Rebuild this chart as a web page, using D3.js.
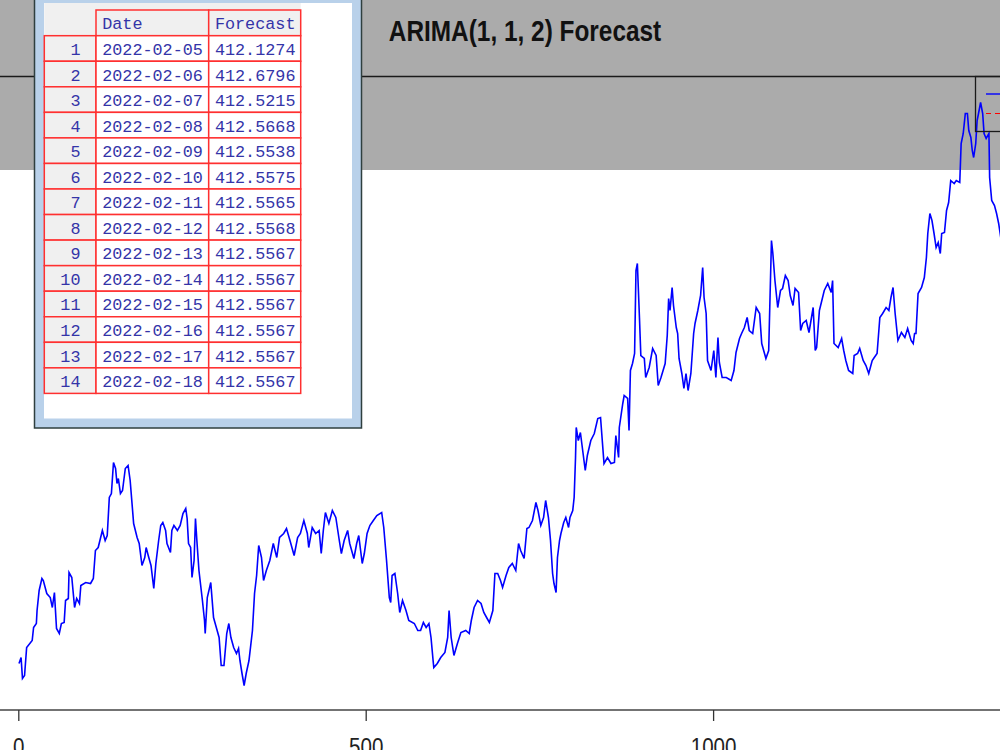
<!DOCTYPE html>
<html>
<head>
<meta charset="utf-8">
<script src="https://cdn.jsdelivr.net/npm/d3@7"></script>
<style>
  html, body { margin: 0; padding: 0; background: #ffffff; overflow: hidden; }
  svg { display: block; }
</style>
</head>
<body>
<svg id="chart" width="1000" height="750"></svg>
<script>
// ---- Data ----
const chartTitle = "ARIMA(1, 1, 2) Forecast";
const xTicks = [0, 500, 1000];

// observed series (index, value)
const obsIndex = [1,4,6,9,12,20,22,26,27,30,34,36,41,46,49,52,55,59,62,66,68,72,73,77,81,84,88,90,97,104,108,111,115,121,125,128,131,134,137,140,142,144,147,150,154,158,161,166,171,174,178,182,184,187,191,195,198,202,205,208,212,214,219,221,224,229,233,237,241,243,245,248,250,253,255,257,260,265,268,269,272,277,281,285,289,292,296,300,303,306,310,314,317,319,322,325,328,332,337,340,343,346,350,353,357,362,367,372,376,382,386,391,397,402,406,411,416,418,423,428,433,436,439,442,447,452,457,462,465,469,474,477,483,487,490,495,498,502,506,511,516,523,526,530,534,536,538,542,546,549,553,558,562,570,575,579,583,587,591,594,597,598,603,608,614,618,620,623,627,632,637,644,649,652,656,661,666,670,674,678,683,686,690,694,697,702,706,711,716,720,723,728,732,735,740,745,748,752,756,759,763,766,769,771,774,776,779,781,785,788,792,794,798,800,802,803,806,809,816,819,824,829,834,838,843,848,853,858,860,864,865,870,872,877,879,881,884,887,889,891,894,896,901,903,908,913,918,921,925,931,934,936,938,941,943,947,949,951,955,958,961,964,968,972,974,978,982,985,987,990,992,997,1001,1004,1007,1009,1013,1019,1026,1030,1033,1038,1041,1045,1049,1052,1057,1062,1067,1070,1074,1076,1080,1082,1084,1086,1089,1093,1097,1100,1104,1108,1111,1115,1118,1123,1126,1129,1134,1138,1144,1147,1149,1153,1160,1165,1170,1172,1174,1180,1185,1188,1191,1195,1201,1203,1208,1211,1216,1220,1224,1229,1232,1236,1240,1244,1249,1253,1256,1259,1262,1266,1271,1276,1280,1285,1288,1290,1292,1295,1300,1304,1307,1309,1312,1315,1318,1321,1324,1327,1329,1333,1336,1339,1342,1347,1350,1355,1357,1360,1363,1366,1368,1371,1373,1375,1378,1380,1382,1385,1388,1390,1393,1397,1398,1401,1405,1408,1411,1414,1416,1421];
const obsValue = [218.5,221.5,211,212.5,226.5,230,236.5,238.5,245,255,261,260,253.5,251.5,246.5,254,236,233.5,238.5,239,250,251,264,261.5,246.5,251,248.5,257.5,259,258.5,261,275,276.5,285,280,282.5,301.5,303.5,319,316,308.5,311,303.5,305,316,317.5,310,288.5,281.5,278.5,267.5,271.5,276.5,272.5,267.5,256,268.5,280,287.5,289,285,278.5,274,285,287.5,285,287.5,293.5,296,291,278.5,276.5,261.5,270,291,280,265,250,240,233.5,251.5,259,241.5,236.5,231.5,217.5,217.5,233.5,238.5,231.5,226.5,223.5,226,220,213.5,207.5,213.5,220,235,253.5,262.5,277.5,271.5,260,265,270,278.5,271.5,281.5,283.5,286,280,272.5,281.5,283.5,290,283.5,276.5,286.5,283.5,285,273.5,285,294,288.5,295,291.5,280,273.5,280,285,278.5,271,278.5,282.5,268.5,273.5,283.5,287.5,290,292.5,294,286.5,270,251.5,249,262.5,263.5,253.5,244,250,245,240,238.5,235,235,239,236.5,238.5,231.5,220,216.5,218.5,221.5,224,231.5,245,231.5,222.5,228.5,234,235,233.5,240,246.5,250,248.5,244,241.5,239,245,263.5,263.5,260,256.5,262.5,266.5,268.5,265,278.5,275,271,286,286.5,290,299,295,287.5,291.5,300,291.5,280,263.5,258.5,254,271.5,280,283.5,289,291.5,286.5,291.5,295,301.5,321.5,336.5,330,334,315,322.5,330,333.5,341,341.5,318.5,321.5,318.5,319,332.5,321.5,336.5,348.5,352.5,351,335,365,368.5,373.5,415,418.5,391.5,372.5,371,361.5,366.5,376,372.5,357.5,361.5,368.5,382.5,401,395,406.5,397.5,386.5,383.5,371,363.5,356,363.5,355,363.5,383.5,388.5,395,402.5,416.5,401.5,393.5,370,365,375,361.5,381.5,369,361.5,361.5,360,365,374,381,383.5,386.5,391.5,385,383.5,396.5,393.5,378.5,373.5,371,375,402.5,430,423.5,410,396.5,405,406,412.5,410,402.5,397.5,406,404,385,388.5,390,384,396.5,375,376.5,395,405,408.5,404,410,378.5,376.5,381,375,370,365,363.5,372.5,373.5,376,370,367.5,363.5,370,371.5,373.5,391.5,393.5,396.5,395,401.5,406.5,393.5,380,384,381.5,386,380,378.5,383.5,383.5,403.5,406.5,411.5,421.5,433.5,443.5,440,433.5,426.5,429,423.5,433.5,434,445,449,460,458.5,460,459,478.5,483.5,493.5,493.5,485,481.5,475,471.5,478.5,490,493.5,499,493.5,483.5,481,483.5,461.5,450,447.5,443.5,438.5,431.5,425,417.5];

// forecast table
const fcRow = [1,2,3,4,5,6,7,8,9,10,11,12,13,14];
const fcDate = ["2022-02-05","2022-02-06","2022-02-07","2022-02-08","2022-02-09","2022-02-10","2022-02-11","2022-02-12","2022-02-13","2022-02-14","2022-02-15","2022-02-16","2022-02-17","2022-02-18"];
const fcValue = [412.1274,412.6796,412.5215,412.5668,412.5538,412.5575,412.5565,412.5568,412.5567,412.5567,412.5567,412.5567,412.5567,412.5567];
const tableHeader = ["", "Date", "Forecast"];

// ---- Drawing ----
const svg = d3.select("#chart");
const W = 1000, H = 750;

const x = d3.scaleLinear().domain([0, 1000]).range([18.3, 713.1]);
const y = d3.scaleLinear().domain([195.5, 512]).range([709.5, 76.5]);

svg.append("rect").attr("x", 0).attr("y", 0).attr("width", W).attr("height", H).attr("fill", "#ffffff");
svg.append("rect").attr("x", 0).attr("y", 0).attr("width", W).attr("height", 170).attr("fill", "#ababab");

// plot frame top line
svg.append("line").attr("x1", 0).attr("x2", W).attr("y1", 76.5).attr("y2", 76.5)
  .attr("stroke", "#1a1a1a").attr("stroke-width", 1.3);

// observed line
const n = Math.min(obsIndex.length, obsValue.length);
const obs = d3.range(n).map(i => ({ i: obsIndex[i], v: obsValue[i] }));
const line = d3.line().x(d => x(d.i)).y(d => y(d.v));
svg.append("path").datum(obs).attr("d", line)
  .attr("fill", "none").attr("stroke", "#0000ff").attr("stroke-width", 1.6)
  .attr("stroke-linejoin", "miter");

// forecast line (continues after last observation, off to the right)
const lastI = obsIndex[n - 1];
const fc = fcValue.map((v, k) => ({ i: lastI + 1 + k, v }));
svg.append("path").datum(fc).attr("d", line)
  .attr("fill", "none").attr("stroke", "#ff0000").attr("stroke-width", 1.2)
  .attr("stroke-dasharray", "5,4");

// legend box (partially visible)
const lg = svg.append("g");
lg.append("rect").attr("x", 975.5).attr("y", 76.5).attr("width", 60).attr("height", 55)
  .attr("fill", "none").attr("stroke", "#1a1a1a").attr("stroke-width", 1.3);
lg.append("line").attr("x1", 986).attr("x2", 1010).attr("y1", 94).attr("y2", 94)
  .attr("stroke", "#0000ff").attr("stroke-width", 1.4);
lg.append("line").attr("x1", 986).attr("x2", 1010).attr("y1", 113.5).attr("y2", 113.5)
  .attr("stroke", "#ff0000").attr("stroke-width", 1.2).attr("stroke-dasharray", "5,4");

// x axis
svg.append("line").attr("x1", 0).attr("x2", W).attr("y1", 710).attr("y2", 710)
  .attr("stroke", "#444444").attr("stroke-width", 1.5);
const axis = d3.axisBottom(x).tickValues(xTicks).tickSize(11).tickFormat(d3.format("d"));
const ax = svg.append("g").attr("transform", "translate(0,710)").call(axis);
ax.select(".domain").remove();
ax.selectAll(".tick line").attr("stroke", "#333333").attr("stroke-width", 1.3);
ax.selectAll(".tick text").remove();
ax.selectAll(".tick").append("text")
  .attr("transform", "translate(0,45.4) scale(1,1.18)")
  .attr("text-anchor", "middle")
  .attr("fill", "#222222")
  .style("font-family", "'Liberation Sans', Arial, sans-serif")
  .style("font-size", "20.6px")
  .text(d => d3.format("d")(d));

// title
svg.append("text")
  .attr("transform", "translate(525,40.8) scale(1,1.18)")
  .attr("text-anchor", "middle")
  .attr("fill", "#111111")
  .style("font-family", "'Liberation Sans', Arial, sans-serif")
  .style("font-weight", "bold")
  .style("font-size", "24.4px")
  .text(chartTitle);

// ---- forecast table window ----
const tw = svg.append("g");
tw.append("rect").attr("x", 34.5).attr("y", -5).attr("width", 327).attr("height", 433)
  .attr("fill", "#b9d1ea").attr("stroke", "#2f3f3f").attr("stroke-width", 1.5);
tw.append("rect").attr("x", 44).attr("y", 3).attr("width", 308).attr("height", 415.5).attr("fill", "#ffffff");

const colX = [44.3, 96, 208.7, 300.7];
const headTop = 10, rowTop = 35.7, rowH = 25.55;
const red = "#ff3030";
const txtColor = "#3434a8";
const mono = "'Liberation Mono', 'Courier New', monospace";

// header band
tw.append("rect").attr("x", colX[0]).attr("y", 3).attr("width", colX[3] - colX[0]).attr("height", rowTop - 3)
  .attr("fill", "#f0f0f0");
[1, 2].forEach(c => {
  tw.append("rect").attr("x", colX[c]).attr("y", headTop).attr("width", colX[c + 1] - colX[c]).attr("height", rowTop - headTop)
    .attr("fill", "#f0f0f0").attr("stroke", red).attr("stroke-width", 1.5);
});
tw.selectAll("text.head").data(tableHeader.slice(1)).enter().append("text")
  .attr("x", (d, k) => colX[k + 1] + 6.2)
  .attr("y", headTop + 19.2)
  .attr("fill", txtColor)
  .style("font-family", mono).style("font-size", "16.8px")
  .text(d => d);

const rows = tw.selectAll("g.row").data(fcRow).enter().append("g")
  .attr("transform", (d, k) => `translate(0,${rowTop + k * rowH})`);
rows.append("rect").attr("x", colX[0]).attr("y", 0).attr("width", colX[1] - colX[0]).attr("height", rowH)
  .attr("fill", "#f0f0f0").attr("stroke", red).attr("stroke-width", 1.5);
rows.append("rect").attr("x", colX[1]).attr("y", 0).attr("width", colX[2] - colX[1]).attr("height", rowH)
  .attr("fill", "#ffffff").attr("stroke", red).attr("stroke-width", 1.5);
rows.append("rect").attr("x", colX[2]).attr("y", 0).attr("width", colX[3] - colX[2]).attr("height", rowH)
  .attr("fill", "#ffffff").attr("stroke", red).attr("stroke-width", 1.5);
rows.append("text").attr("x", 80.5).attr("y", 19.3).attr("text-anchor", "end")
  .attr("fill", txtColor).style("font-family", mono).style("font-size", "16.8px")
  .text(d => d);
rows.append("text").attr("x", colX[1] + 6.2).attr("y", 19.3)
  .attr("fill", txtColor).style("font-family", mono).style("font-size", "16.8px")
  .text((d, k) => fcDate[k]);
rows.append("text").attr("x", colX[2] + 6.2).attr("y", 19.3)
  .attr("fill", txtColor).style("font-family", mono).style("font-size", "16.8px")
  .text((d, k) => d3.format(".4f")(fcValue[k]));
</script>
</body>
</html>
